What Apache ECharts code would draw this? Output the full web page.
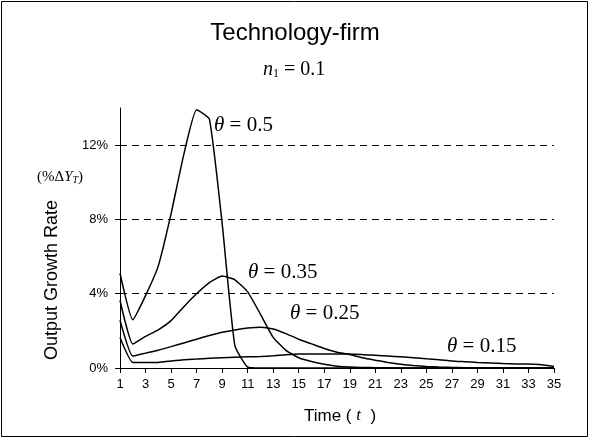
<!DOCTYPE html>
<html>
<head>
<meta charset="utf-8">
<script src="https://cdn.jsdelivr.net/npm/echarts@6/dist/echarts.min.js"></script>
<style>html,body{margin:0;padding:0;background:#fff}#c{width:590px;height:439px}</style>
</head>
<body>
<div id="c"></div>
<script>
var periods = [];
for (var i = 1; i <= 35; i++) periods.push(String(i));
var yTicks = [0, 4, 8, 12];

var theta050 = [5.1, 2.6, 3.9, 5.5, 8.3, 11.5, 13.9, 13.4, 7.8, 1.2, 0.05, 0, 0, 0, 0, 0, 0, 0, 0, 0, 0, 0, 0, 0, 0, 0, 0, 0, 0, 0, 0, 0, 0, 0, 0];
var theta035 = [3.64, 1.29, 1.7, 2.05, 2.55, 3.3, 4.0, 4.6, 4.95, 4.75, 4.1, 2.9, 1.65, 0.95, 0.55, 0.35, 0.2, 0.1, 0.05, 0.03, 0.02, 0.01, 0, 0, 0, 0, 0, 0, 0, 0, 0, 0, 0, 0, 0];
var theta025 = [2.57, 0.64, 0.8, 0.96, 1.15, 1.35, 1.55, 1.75, 1.92, 2.05, 2.15, 2.2, 2.1, 1.85, 1.55, 1.3, 1.05, 0.85, 0.72, 0.55, 0.42, 0.3, 0.2, 0.13, 0.08, 0.05, 0.03, 0.02, 0.01, 0, 0, 0, 0, 0, 0];
var theta015 = [1.64, 0.3, 0.3, 0.3, 0.38, 0.45, 0.48, 0.52, 0.55, 0.58, 0.6, 0.62, 0.66, 0.72, 0.75, 0.75, 0.75, 0.75, 0.75, 0.72, 0.68, 0.64, 0.6, 0.55, 0.5, 0.45, 0.38, 0.34, 0.3, 0.27, 0.24, 0.22, 0.21, 0.18, 0.08];

var seriesNames = ['θ = 0.5', 'θ = 0.35', 'θ = 0.25', 'θ = 0.15'];
var seriesData = [theta050, theta035, theta025, theta015];

var chart = echarts.init(document.getElementById('c'), null, {renderer: 'canvas'});

var serif = '"Liberation Serif", "DejaVu Serif", serif';
var sans = '"Liberation Sans", Arial, sans-serif';

function thetaLabel(x, y, val) {
  return {
    type: 'text', left: x, top: y,
    style: {
      text: '{i|θ} = ' + val,
      font: '21px ' + serif,
      fill: '#000',
      rich: { i: { fontStyle: 'italic', fontFamily: serif, fontSize: 21 } }
    }
  };
}

var series = seriesData.map(function (d, k) {
  var s = {
    name: seriesNames[k],
    type: 'line',
    data: d,
    symbol: 'none',
    smooth: 0.15,
    lineStyle: { color: '#000', width: 1.5 },
    z: 3
  };
  if (k === 0) {
    s.markLine = {
      silent: true,
      symbol: ['none', 'none'],
      label: { show: false },
      lineStyle: { color: '#000', type: [7, 5], width: 1 },
      data: yTicks.filter(function (v) { return v > 0; }).map(function (v) { return { yAxis: v }; })
    };
  }
  return s;
});

chart.setOption({
  animation: false,
  backgroundColor: '#fff',
  grid: { left: 120, right: 36, top: 108, bottom: 71 },
  xAxis: {
    type: 'category',
    data: periods,
    boundaryGap: false,
    axisLine: { lineStyle: { color: '#000', width: 1 } },
    axisTick: { show: true, interval: 1, length: 5, lineStyle: { color: '#000' } },
    axisLabel: { interval: 1, color: '#000', fontSize: 13, fontFamily: sans, margin: 10 },
    splitLine: { show: false }
  },
  yAxis: {
    type: 'value',
    min: 0, max: 14, interval: 4,
    axisLine: { show: true, lineStyle: { color: '#000', width: 1 } },
    axisTick: { show: true, length: 5, customValues: yTicks, lineStyle: { color: '#000' } },
    axisLabel: { color: '#000', fontSize: 13, fontFamily: sans, margin: 12, customValues: yTicks,
      formatter: function (v) { return v + '%'; } },
    splitLine: { show: false }
  },
  series: series,
  graphic: [
    { type: 'rect', shape: { x: 1.5, y: 1.5, width: 586, height: 435 },
      style: { fill: 'none', stroke: '#000', lineWidth: 1 }, z: 0 },
    { type: 'text', left: 'center', top: 21,
      style: { text: 'Technology-firm', font: '24px ' + sans, fill: '#000' } },
    { type: 'text', left: 263, top: 60,
      style: { text: '{i|n}{s|1} = 0.1', font: '20px ' + serif, fill: '#000',
        rich: { i: { fontStyle: 'italic', fontFamily: serif, fontSize: 20 },
                s: { fontFamily: serif, fontSize: 12, verticalAlign: 'bottom', padding: [7, 0, 0, 0] } } } },
    { type: 'text', left: 37, top: 170,
      style: { text: '(%Δ{i|Y}{s|T})', font: '15px ' + serif, fill: '#000',
        rich: { i: { fontStyle: 'italic', fontFamily: serif, fontSize: 15 },
                s: { fontStyle: 'italic', fontFamily: serif, fontSize: 10, padding: [6, 0, 0, 0] } } } },
    { type: 'text', x: 52, y: 280, rotation: Math.PI / 2,
      style: { text: 'Output Growth Rate', font: '18px ' + sans, fill: '#000', align: 'center', verticalAlign: 'middle' } },
    { type: 'text', x: 340, y: 416,
      style: { text: 'Time ( {i|t}  )', font: '17px ' + sans, fill: '#000', align: 'center', verticalAlign: 'middle',
        rich: { i: { fontStyle: 'italic', fontFamily: serif, fontSize: 17 } } } },
    thetaLabel(214, 115, '0.5'),
    thetaLabel(248, 262, '0.35'),
    thetaLabel(290, 303, '0.25'),
    thetaLabel(447, 336, '0.15')
  ]
});
</script>
</body>
</html>
